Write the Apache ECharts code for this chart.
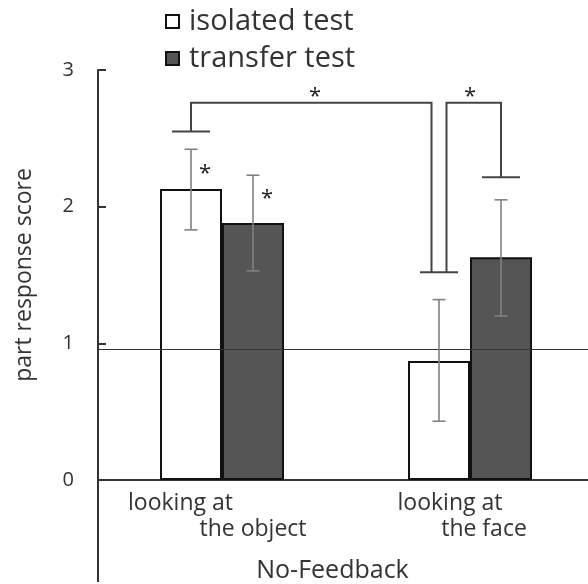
<!DOCTYPE html>
<html><head><meta charset="utf-8">
<script src="https://cdn.jsdelivr.net/npm/echarts@6/dist/echarts.min.js"></script>
<style>html,body{margin:0;padding:0;background:#fff}#c{width:588px;height:584px}</style>
</head><body><div id="c"></div>
<script>
// ---- data ----
const categories = ['looking at\nthe object', 'looking at\nthe face'];
const seriesNames = ['isolated test', 'transfer test'];
const isolated = [2.13, 0.87];
const transfer = [1.88, 1.63];
const isolatedLow = [1.83, 0.43];
const isolatedHigh = [2.42, 1.32];
const transferLow = [1.53, 1.20];
const transferHigh = [2.23, 2.05];
const yTicks = [0, 1, 2, 3];
const chanceLevel = 0.96;
const groupLabel = 'No-Feedback';
const yTitle = 'part response score';
// significance brackets between bars ([category, series])
const bracketFrom = [[0, 0], [1, 0]];
const bracketTo = [[1, 0], [1, 1]];
const bracketTop = [2.76, 2.76];
const bracketEndFrom = [2.55, 1.52];
const bracketEndTo = [1.52, 2.215];
// bars marked with a star next to their error bar
const starBars = [[0, 0], [0, 1]];

// ---- layout / style ----
const FONT = '"Open Sans", "Noto Sans", sans-serif';
const TXT = '#333';
const GRID = {left: 98, right: -6, top: 70, bottom: 104};
const BAR_FRAC = 0.25;
const lows = [isolatedLow, transferLow];
const highs = [isolatedHigh, transferHigh];
const barX = (c, s) => c + 0.5 + (s - 0.5) * BAR_FRAC;

const errData = [];
for (let s = 0; s < 2; s++) for (let c = 0; c < categories.length; c++)
  errData.push([barX(c, s), lows[s][c], highs[s][c]]);

// bracket rows: x positions + flags for shared bars
const keyOf = b => b[0] + '_' + b[1];
const useCount = {};
bracketFrom.concat(bracketTo).forEach(b => { useCount[keyOf(b)] = (useCount[keyOf(b)] || 0) + 1; });
const bracketData = bracketFrom.map((f, i) => {
  const t = bracketTo[i];
  return [barX(f[0], f[1]), barX(t[0], t[1]), bracketTop[i], bracketEndFrom[i], bracketEndTo[i],
          useCount[keyOf(f)] > 1 ? 1 : 0, useCount[keyOf(t)] > 1 ? 1 : 0];
});
const capMap = {};
bracketFrom.forEach((f, i) => { capMap[keyOf(f) + '_' + bracketEndFrom[i]] = [barX(f[0], f[1]), bracketEndFrom[i]]; });
bracketTo.forEach((t, i) => { capMap[keyOf(t) + '_' + bracketEndTo[i]] = [barX(t[0], t[1]), bracketEndTo[i]]; });
const capData = Object.values(capMap);

const starData = [];
starBars.forEach(b => starData.push([barX(b[0], b[1]), highs[b[1]][b[0]], 14, 20]));
bracketData.forEach(r => starData.push([(r[0] + r[1]) / 2, r[2], 0, -10]));

const chart = echarts.init(document.getElementById('c'), null, {renderer: 'canvas'});

const option = {
  backgroundColor: '#fff',
  animation: false,
  textStyle: {fontFamily: FONT},
  legend: {
    data: seriesNames.map(n => ({name: n, icon: 'rect'})),
    orient: 'vertical',
    left: 160, top: 2,
    itemWidth: 13, itemHeight: 13, itemGap: 8,
    textStyle: {fontSize: 29, color: TXT, fontFamily: FONT, padding: [0, 0, 6, 5]}
  },
  grid: Object.assign({containLabel: false, outerBoundsMode: 'none'}, GRID),
  xAxis: [{
    type: 'category', data: categories,
    axisLine: {lineStyle: {color: TXT, width: 2}},
    axisTick: {show: false},
    axisLabel: {
      interval: 0, margin: 10,
      formatter: (v, i) => { const p = v.split('\n'); return '{a' + i + '|' + p[0] + '}\n{b' + i + '|' + p[1] + '}'; },
      rich: {
        a0: {fontSize: 23, color: TXT, fontFamily: FONT, lineHeight: 26, padding: [0, 83, 0, 0]},
        b0: {fontSize: 23, color: TXT, fontFamily: FONT, lineHeight: 26, padding: [0, 0, 0, 62]},
        a1: {fontSize: 23, color: TXT, fontFamily: FONT, lineHeight: 26, padding: [0, 40, 0, 0]},
        b1: {fontSize: 23, color: TXT, fontFamily: FONT, lineHeight: 26, padding: [0, 0, 0, 28]}
      }
    },
    name: groupLabel, nameLocation: 'middle', nameGap: 78,
    nameTextStyle: {fontSize: 25, color: TXT, fontFamily: FONT, padding: [0, 27, 0, 0]}
  }, {
    type: 'value', min: 0, max: categories.length, show: false
  }],
  yAxis: {
    type: 'value', min: yTicks[0], max: yTicks[yTicks.length - 1], interval: 1,
    axisLine: {show: true, lineStyle: {color: TXT, width: 2}},
    axisTick: {show: true, inside: true, length: 8, lineStyle: {color: TXT, width: 2}},
    axisLabel: {fontSize: 20, color: TXT, fontFamily: FONT, margin: 24},
    splitLine: {show: false},
    name: yTitle, nameLocation: 'middle', nameGap: 62, nameRotate: 90,
    nameTextStyle: {fontSize: 23, color: TXT, fontFamily: FONT}
  },
  series: [{
    name: seriesNames[0], type: 'bar', data: isolated,
    barWidth: (BAR_FRAC * 100) + '%', barGap: '0%',
    itemStyle: {color: '#ffffff', borderColor: '#111', borderWidth: 2}
  }, {
    name: seriesNames[1], type: 'bar', data: transfer,
    barWidth: (BAR_FRAC * 100) + '%', barGap: '0%',
    itemStyle: {color: '#555555', borderColor: '#111', borderWidth: 2},
    markLine: {
      silent: true, symbol: 'none', label: {show: false},
      lineStyle: {color: '#333', width: 1.2, type: 'solid'},
      data: [{yAxis: chanceLevel}]
    }
  }, {
    type: 'custom', xAxisIndex: 1, z: 10, data: errData,
    renderItem: (params, api) => {
      const x = api.coord([api.value(0), api.value(1)])[0];
      const yl = api.coord([api.value(0), api.value(1)])[1];
      const yh = api.coord([api.value(0), api.value(2)])[1];
      const w = 6.5;
      const st = {stroke: '#808080', lineWidth: 1.6};
      return {type: 'group', children: [
        {type: 'line', shape: {x1: x, y1: yl, x2: x, y2: yh}, style: st},
        {type: 'line', shape: {x1: x - w, y1: yh, x2: x + w, y2: yh}, style: st},
        {type: 'line', shape: {x1: x - w, y1: yl, x2: x + w, y2: yl}, style: st}
      ]};
    }
  }, {
    type: 'custom', xAxisIndex: 1, z: 10, data: bracketData,
    renderItem: (params, api) => {
      const sh = 7.5;
      const x1 = api.coord([api.value(0), 0])[0] + (api.value(5) ? sh : 0);
      const x2 = api.coord([api.value(1), 0])[0] - (api.value(6) ? sh : 0);
      const yt = api.coord([0, api.value(2)])[1];
      const y1 = api.coord([0, api.value(3)])[1];
      const y2 = api.coord([0, api.value(4)])[1];
      return {type: 'polyline', shape: {points: [[x1, y1], [x1, yt], [x2, yt], [x2, y2]]},
              style: {stroke: '#444', lineWidth: 2, fill: null}};
    }
  }, {
    type: 'custom', xAxisIndex: 1, z: 10, data: capData,
    renderItem: (params, api) => {
      const p = api.coord([api.value(0), api.value(1)]);
      return {type: 'line', shape: {x1: p[0] - 19, y1: p[1], x2: p[0] + 19, y2: p[1]},
              style: {stroke: '#444', lineWidth: 2}};
    }
  }, {
    type: 'custom', xAxisIndex: 1, z: 11, data: starData,
    renderItem: (params, api) => {
      const p = api.coord([api.value(0), api.value(1)]);
      return {type: 'text', style: {text: '*', x: p[0] + api.value(2), y: p[1] + api.value(3) + 4,
              fill: '#222', font: '22px ' + FONT, align: 'center', verticalAlign: 'middle'}};
    }
  }],
  graphic: [{
    type: 'line', z: 20,
    shape: {x1: GRID.left, y1: 584 - GRID.bottom, x2: GRID.left, y2: 582},
    style: {stroke: TXT, lineWidth: 2}
  }]
};
chart.setOption(option);
</script>
</body></html>
